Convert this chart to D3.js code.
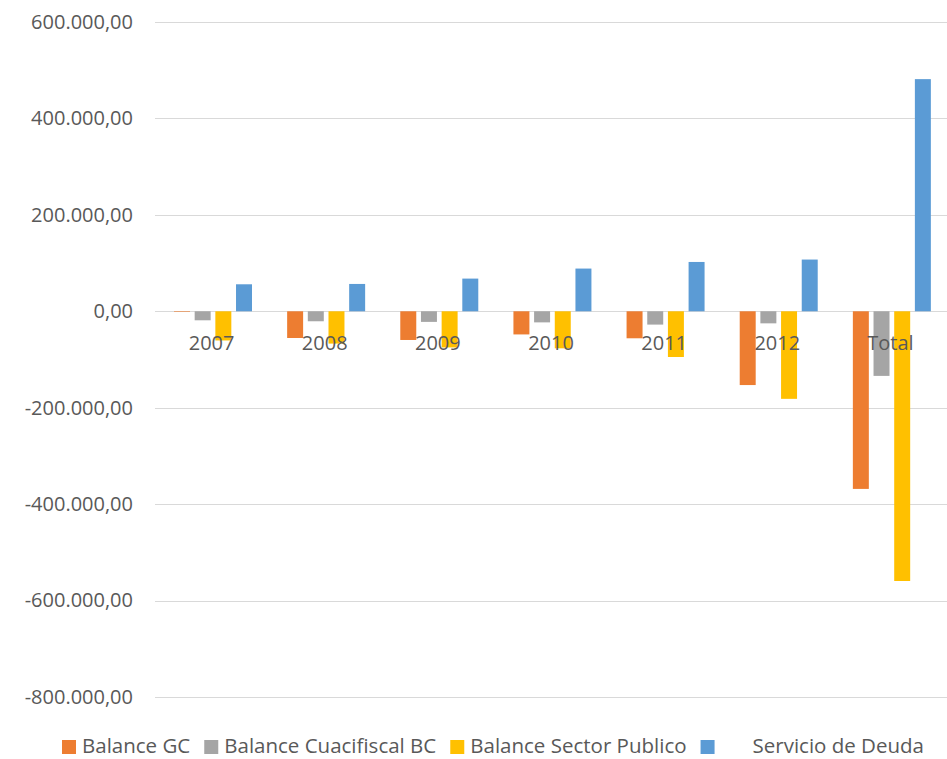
<!DOCTYPE html>
<html>
<head>
<meta charset="utf-8">
<script src="https://cdnjs.cloudflare.com/ajax/libs/d3/7.8.5/d3.min.js"></script>
<style>
    html, body { margin: 0; padding: 0; background: #fff; }
    svg { display: block; font-family: 'Open Sans', Lato, sans-serif; }
    .legend text { white-space: pre; }
</style>
</head>
<body>
<div id="chart"></div>
<script>
const categories = ['2007', '2008', '2009', '2010', '2011', '2012', 'Total'];
const seriesNames = ['Balance GC', 'Balance Cuacifiscal BC', 'Balance Sector Publico', '      Servicio de Deuda'];
const balanceGC = [-1200, -55400, -59500, -48000, -56000, -153000, -368400];
const balanceBC = [-18700, -20700, -22000, -23000, -27600, -25000, -134000];
const balanceSP = [-60500, -67000, -75000, -76800, -94800, -181600, -559400];
const servicioDeuda = [56000, 56700, 67800, 88600, 102300, 107300, 481500];
const yTicks = [-800000, -600000, -400000, -200000, 0, 200000, 400000, 600000];
const colors = ['#ED7D31', '#A5A5A5', '#FFC000', '#5B9BD5'];

const seriesValues = [balanceGC, balanceBC, balanceSP, servicioDeuda];

const width = 947;
const height = 759;
const margin = { top: 22, right: 0, bottom: 62, left: 155 };

const locale = d3.formatLocale({ decimal: ',', thousands: '.', grouping: [3], currency: ['', ''], minus: '-' });
const fmt = locale.format(',.2f');

const svg = d3.select('#chart')
    .append('svg')
    .attr('width', width)
    .attr('height', height);

const x = d3.scaleBand()
    .domain(categories)
    .range([margin.left, width - margin.right])
    .paddingInner(0)
    .paddingOuter(0);

/* inner band for the four series: bar 16px, step ~20.7px */
const xInner = d3.scaleBand()
    .domain(d3.range(seriesNames.length))
    .range([19, 97])
    .paddingInner(0.227)
    .paddingOuter(0);

const y = d3.scaleLinear()
    .domain([d3.min(yTicks), d3.max(yTicks)])
    .range([height - margin.bottom, margin.top]);

/* gridlines */
svg.append('g')
    .attr('class', 'grid')
    .selectAll('line')
    .data(yTicks)
    .join('line')
    .attr('x1', margin.left)
    .attr('x2', width - margin.right)
    .attr('y1', (d) => Math.round(y(d)) + 0.5)
    .attr('y2', (d) => Math.round(y(d)) + 0.5)
    .attr('stroke', '#d9d9d9')
    .attr('stroke-width', 1);

/* y axis labels */
const yAxis = d3.axisLeft(y)
    .tickValues(yTicks)
    .tickFormat(fmt)
    .tickSize(0)
    .tickPadding(0);

svg.append('g')
    .attr('transform', `translate(${margin.left - 22},0)`)
    .call(yAxis)
    .call((g) => g.select('.domain').remove())
    .selectAll('text')
    .attr('fill', '#595959')
    .style('font-size', '20px')
    .style('font-family', "'Open Sans', sans-serif");

/* bars */
const groups = svg.append('g')
    .attr('class', 'bars')
    .selectAll('g')
    .data(categories)
    .join('g')
    .attr('transform', (d) => `translate(${x(d)},0)`);

groups.selectAll('rect')
    .data((d, i) => seriesValues.map((vals, s) => ({ s, value: vals[i] })))
    .join('rect')
    .attr('x', (d) => xInner(d.s))
    .attr('width', xInner.bandwidth())
    .attr('y', (d) => y(Math.max(0, d.value)))
    .attr('height', (d) => Math.abs(y(d.value) - y(0)))
    .attr('fill', (d) => colors[d.s]);

/* category labels, drawn over the bars */
const xAxis = d3.axisBottom(x)
    .tickSize(0)
    .tickPadding(0);

svg.append('g')
    .attr('transform', `translate(0,${y(0)})`)
    .call(xAxis)
    .call((g) => g.select('.domain').remove())
    .selectAll('text')
    .attr('y', 39)
    .attr('dy', 0)
    .attr('fill', '#595959')
    .style('font-size', '20px')
    .style('font-family', "'Open Sans', sans-serif");

/* legend */
const legend = svg.append('g')
    .attr('class', 'legend')
    .attr('transform', 'translate(62,753)');

let lx = 0;
seriesNames.forEach((name, i) => {
    const item = legend.append('g')
        .attr('transform', `translate(${lx},0)`);
    item.append('rect')
        .attr('x', 0)
        .attr('y', -13)
        .attr('width', 14)
        .attr('height', 14)
        .attr('fill', colors[i]);
    const t = item.append('text')
        .attr('x', 20)
        .attr('fill', '#595959')
        .style('font-size', '20.5px')
        .text(name);
    lx += 20 + t.node().getComputedTextLength() + 14;
});
</script>
</body>
</html>
